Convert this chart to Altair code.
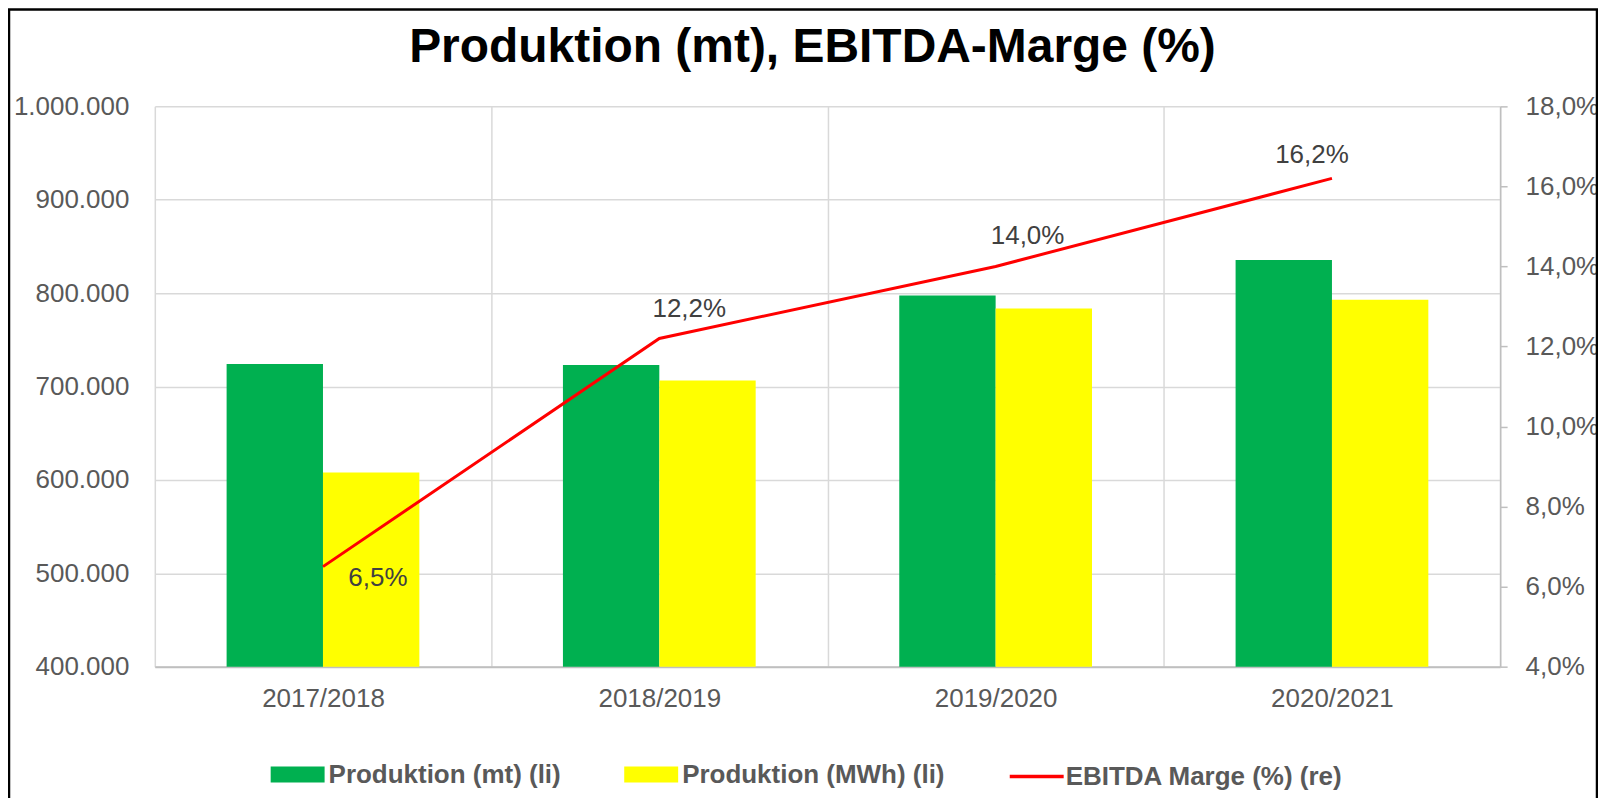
import altair as alt
import pandas as pd

# ---------------- data ----------------
years = ["2017/2018", "2018/2019", "2019/2020", "2020/2021"]
prod_mt = [724000, 723000, 797500, 835500]
prod_mwh = [608000, 706500, 783500, 793000]
ebitda = [6.5, 12.2, 14.0, 16.2]
series_names = ["Produktion (mt) (li)", "Produktion (MWh) (li)"]
line_name = "EBITDA Marge (%) (re)"
left_ticks = [400000, 500000, 600000, 700000, 800000, 900000, 1000000]
right_ticks = [4, 6, 8, 10, 12, 14, 16, 18]
title_text = "Produktion (mt), EBITDA-Marge (%)"

# ---------------- styles ----------------
bar_colors = ["#00B050", "#FFFF00"]
line_color = "#FF0000"
FONT = "Liberation Sans"
GRAY = "#595959"
GRID = "#D9D9D9"
AXIS_LINE = "#BFBFBF"
W, H = 1347, 561
# per-label (dx, dy) for the EBITDA data labels
label_offsets = [(55, 11), (30, -30), (32, -30), (-20, -23)]

bars_df = pd.DataFrame({
    "year": years * 2,
    "series": [series_names[0]] * len(years) + [series_names[1]] * len(years),
    "value": prod_mt + prod_mwh,
})
line_df = pd.DataFrame({"year": years, "ebitda": ebitda, "series": [line_name] * len(years)})

x_enc = alt.X(
    "year:N", sort=years,
    scale=alt.Scale(paddingInner=0, paddingOuter=0),
    axis=alt.Axis(title=None, tickBand="extent", grid=True, gridColor=GRID, gridWidth=1.5,
                  ticks=False, tickSize=0, domain=True, domainColor=AXIS_LINE, domainWidth=2,
                  labelFont=FONT, labelFontSize=26, labelColor=GRAY, labelPadding=19, labelAngle=0),
)

left_axis = alt.Axis(title=None, values=left_ticks, grid=True, gridColor=GRID, gridWidth=1.5,
                     ticks=False, tickSize=0, domain=False,
                     labelExpr="replace(replace(format(datum.value, ','), ',', '.'), ',', '.')",
                     labelFont=FONT, labelFontSize=26, labelColor=GRAY, labelPadding=26)

right_axis = alt.Axis(title=None, orient="right", values=right_ticks, grid=False,
                      ticks=True, tickSize=7, tickColor=AXIS_LINE, tickWidth=1.5,
                      domain=True, domainColor=AXIS_LINE, domainWidth=1.5,
                      labelExpr="replace(format(datum.value, '.1f'), '.', ',') + '%'",
                      labelFont=FONT, labelFontSize=26, labelColor=GRAY, labelPadding=18)

y_right = alt.Y("ebitda:Q", scale=alt.Scale(domain=[4, 18], nice=False, zero=False), axis=right_axis)

border = alt.Chart(pd.DataFrame({"frame": [0]})).mark_rect(
    fillOpacity=0, stroke="black", strokeWidth=2.5, clip=False
).encode(
    x=alt.value(-146), x2=alt.value(W + 97), y=alt.value(-97), y2=alt.value(H + 160)
)

bars = alt.Chart(bars_df).mark_bar(clip=True).encode(
    x=x_enc,
    xOffset=alt.XOffset("series:N", sort=series_names,
                        scale=alt.Scale(paddingInner=0, paddingOuter=0.745)),
    y=alt.Y("value:Q", scale=alt.Scale(domain=[400000, 1000000], zero=False, nice=False), axis=left_axis),
    color=alt.Color(
        "series:N", sort=series_names,
        scale=alt.Scale(domain=series_names, range=bar_colors),
        legend=alt.Legend(title=None, orient="none", legendX=116, legendY=642, direction="horizontal",
                          symbolType="M-1,-0.3H1V0.3H-1Z", symbolSize=2916, symbolStrokeWidth=0,
                          symbolOpacity=1, labelFont=FONT, labelFontSize=26, labelFontWeight="bold",
                          labelColor=GRAY, labelLimit=600, labelOffset=4, columnPadding=63),
    ),
)

line = alt.Chart(line_df).mark_line(strokeWidth=3).encode(
    x=x_enc,
    y=y_right,
    stroke=alt.Stroke(
        "series:N",
        scale=alt.Scale(domain=[line_name], range=[line_color]),
        legend=alt.Legend(title=None, orient="none", legendX=854, legendY=642,
                          symbolType="stroke", symbolSize=2916, symbolStrokeWidth=3.5,
                          labelFont=FONT, labelFontSize=26, labelFontWeight="bold",
                          labelColor=GRAY, labelLimit=600, labelOffset=0),
    ),
)

label_layers = []
for yr, (dx, dy) in zip(years, label_offsets):
    label_layers.append(
        alt.Chart(line_df).transform_filter(alt.datum.year == yr).transform_calculate(
            label="replace(format(datum.ebitda, '.1f'), '.', ',') + '%'"
        ).mark_text(font=FONT, fontSize=26, color="#404040", align="center", baseline="middle",
                    dx=dx, dy=dy).encode(x=x_enc, y=y_right, text="label:N")
    )

line_layer = alt.layer(line, *label_layers)

chart = alt.layer(border, bars, line_layer).resolve_scale(
    y="independent"
).properties(
    width=W, height=H,
    padding={"left": 147, "top": 98, "right": 98, "bottom": 131},
    autosize=alt.AutoSizeParams(type="none"),
    background="white",
    title=alt.TitleParams(text=title_text, font=FONT, fontSize=48, fontWeight="bold", color="black",
                          anchor="middle", frame="group", dx=-15, offset=-102, baseline="alphabetic"),
).configure_view(stroke=None)

chart.save("out.html", embed_options={"renderer": "svg", "actions": False})
